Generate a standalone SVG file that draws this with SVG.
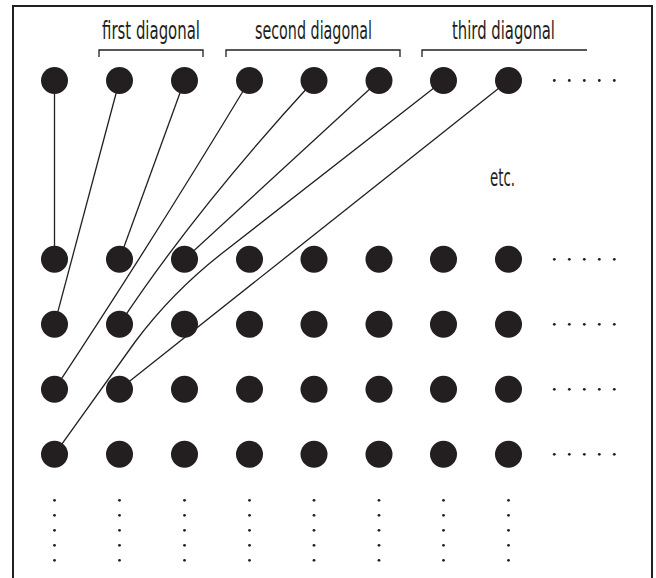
<svg xmlns="http://www.w3.org/2000/svg" width="656" height="578" viewBox="0 0 656 578">
<style>
.lbl{font-family:"DejaVu Sans Condensed","DejaVu Sans","Liberation Sans",sans-serif;font-size:24px;fill:#231f20}
.dot{fill:#231f20}
.sd{fill:#231f20}
.br{fill:none;stroke:#231f20;stroke-width:1.3}
.cn{fill:none;stroke:#231f20;stroke-width:1.3}
</style>
<defs>
<circle id="d" r="13.5" class="dot"/>
<circle id="s" r="1.4" class="sd"/>
<g id="hell"><use href="#s" x="554.3"/><use href="#s" x="569.3"/><use href="#s" x="584.3"/><use href="#s" x="599.3"/><use href="#s" x="614.3"/></g>
<g id="vell"><use href="#s" y="500.3"/><use href="#s" y="515.3"/><use href="#s" y="530.3"/><use href="#s" y="545.3"/><use href="#s" y="560.3"/></g>
</defs>
<rect width="656" height="578" fill="#fff"/>
<path d="M13,578 V6 H652 V578" fill="none" stroke="#231f20" stroke-width="2"/>

<g id="labels">
<text class="lbl" x="102" y="39" textLength="98" lengthAdjust="spacingAndGlyphs">first diagonal</text>
<path class="br" d="M99,57 V50 H203 V57"/>
<text class="lbl" x="255" y="39" textLength="117" lengthAdjust="spacingAndGlyphs">second diagonal</text>
<path class="br" d="M226,57 V50 H400 V57"/>
<text class="lbl" x="452" y="39" textLength="103" lengthAdjust="spacingAndGlyphs">third diagonal</text>
<path class="br" d="M422,57 V50 H587"/>
<text class="lbl" x="490" y="186" textLength="25" lengthAdjust="spacingAndGlyphs">etc.</text>
</g>

<g id="connectors">
<path class="cn" d="M54.5,80.5 V259.3"/>
<path class="cn" d="M119.5,80.5 L54.5,324.3"/>
<path class="cn" d="M184.5,80.5 L119.5,259.3"/>
<path class="cn" d="M249.5,80.5 Q150,245 54.5,389.3"/>
<path class="cn" d="M314,80.5 Q195,210 119.5,324.3"/>
<path class="cn" d="M379,80.5 L184.5,259.3"/>
<path class="cn" d="M443.5,80.5 L225,251 Q173,291 135,342 L54.5,454.3"/>
<path class="cn" d="M508.5,80.5 L119.5,389.3"/>
</g>

<g id="top-row">
<use href="#d" x="54.5" y="80.5"/><use href="#d" x="119.5" y="80.5"/><use href="#d" x="184.5" y="80.5"/><use href="#d" x="249.5" y="80.5"/><use href="#d" x="314" y="80.5"/><use href="#d" x="379" y="80.5"/><use href="#d" x="443.5" y="80.5"/><use href="#d" x="508.5" y="80.5"/>
<use href="#hell" y="80.5"/>
</g>

<g id="row1">
<use href="#d" x="54.5" y="259.3"/><use href="#d" x="119.5" y="259.3"/><use href="#d" x="184.5" y="259.3"/><use href="#d" x="249.5" y="259.3"/><use href="#d" x="314" y="259.3"/><use href="#d" x="379" y="259.3"/><use href="#d" x="443.5" y="259.3"/><use href="#d" x="508.5" y="259.3"/>
<use href="#hell" y="259.3"/>
</g>
<g id="row2">
<use href="#d" x="54.5" y="324.3"/><use href="#d" x="119.5" y="324.3"/><use href="#d" x="184.5" y="324.3"/><use href="#d" x="249.5" y="324.3"/><use href="#d" x="314" y="324.3"/><use href="#d" x="379" y="324.3"/><use href="#d" x="443.5" y="324.3"/><use href="#d" x="508.5" y="324.3"/>
<use href="#hell" y="324.3"/>
</g>
<g id="row3">
<use href="#d" x="54.5" y="389.3"/><use href="#d" x="119.5" y="389.3"/><use href="#d" x="184.5" y="389.3"/><use href="#d" x="249.5" y="389.3"/><use href="#d" x="314" y="389.3"/><use href="#d" x="379" y="389.3"/><use href="#d" x="443.5" y="389.3"/><use href="#d" x="508.5" y="389.3"/>
<use href="#hell" y="389.3"/>
</g>
<g id="row4">
<use href="#d" x="54.5" y="454.3"/><use href="#d" x="119.5" y="454.3"/><use href="#d" x="184.5" y="454.3"/><use href="#d" x="249.5" y="454.3"/><use href="#d" x="314" y="454.3"/><use href="#d" x="379" y="454.3"/><use href="#d" x="443.5" y="454.3"/><use href="#d" x="508.5" y="454.3"/>
<use href="#hell" y="454.3"/>
</g>
<g id="column-ellipses">
<use href="#vell" x="54.5"/><use href="#vell" x="119.5"/><use href="#vell" x="184.5"/><use href="#vell" x="249.5"/><use href="#vell" x="314"/><use href="#vell" x="379"/><use href="#vell" x="443.5"/><use href="#vell" x="508.5"/>
</g>
</svg>
